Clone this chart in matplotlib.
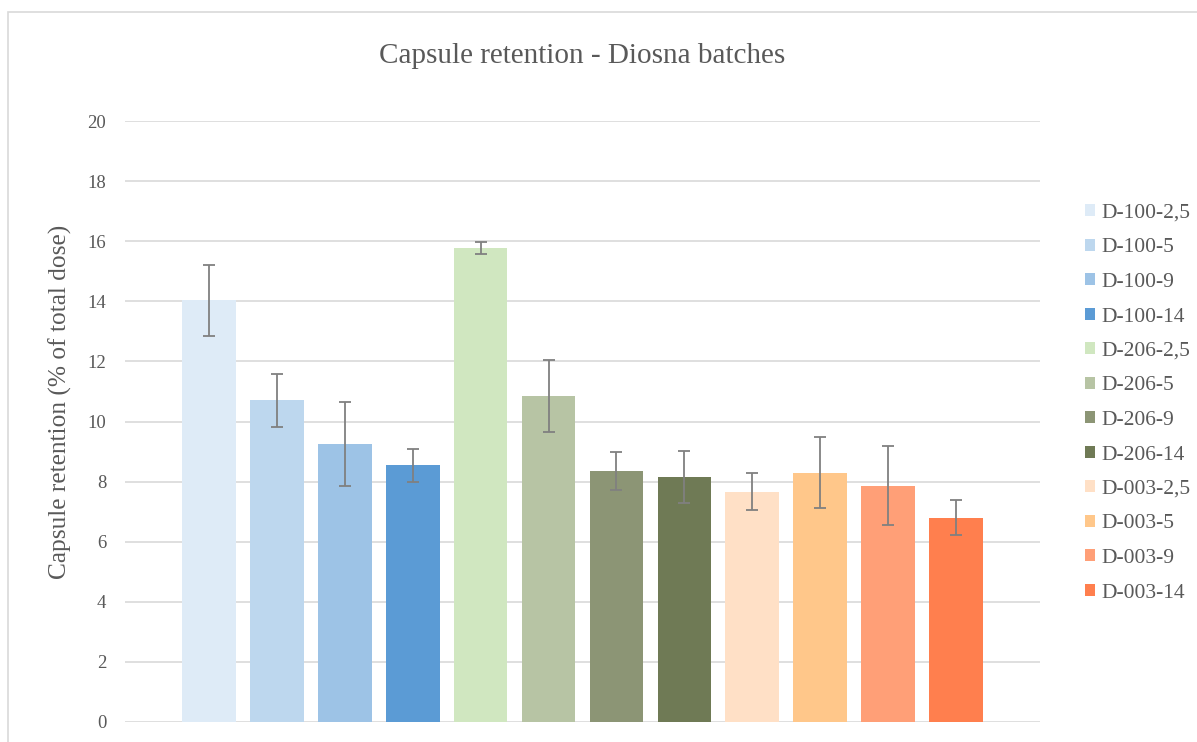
import matplotlib.pyplot as plt
from matplotlib.patches import Rectangle

# Batch names, mean retention and standard deviation
batches = ['D-100-2,5', 'D-100-5', 'D-100-9', 'D-100-14',
           'D-206-2,5', 'D-206-5', 'D-206-9', 'D-206-14',
           'D-003-2,5', 'D-003-5', 'D-003-9', 'D-003-14']
retention = [14.03, 10.70, 9.25, 8.55, 15.77, 10.85, 8.35, 8.15, 7.67, 8.30, 7.87, 6.80]
std_dev = [1.18, 0.88, 1.40, 0.55, 0.19, 1.20, 0.64, 0.86, 0.61, 1.17, 1.30, 0.59]
colors = ['#DEEBF7', '#BDD7EE', '#9DC3E6', '#5B9BD5',
          '#D0E7C0', '#B7C4A4', '#8C9575', '#6F7A55',
          '#FFE0C6', '#FFC78A', '#FF9F77', '#FF7F4E']

plt.rcParams['font.family'] = ['Liberation Serif', 'DejaVu Serif']

fig = plt.figure(figsize=(11.97, 7.42), dpi=100)
# Outer chart border
fig.patches.append(Rectangle((8 / 1197, -0.02), 1.05, 1 - 12 / 742 + 0.02,
                             transform=fig.transFigure, fill=False,
                             edgecolor='#d9d9d9', linewidth=1.2))

ax = fig.add_axes([125 / 1197, 20 / 742, 915 / 1197, 601 / 742])

x = list(range(len(batches)))
bars = ax.bar(x, retention, width=0.79, color=colors, label=batches, zorder=2)
ax.errorbar(x, retention, yerr=std_dev, fmt='none', ecolor='#808080',
            elinewidth=1.3, capsize=4, capthick=1.3, zorder=3)

ax.set_ylim(0, 20)
ax.set_xlim(-1.24, 12.24)
ax.set_yticks(range(0, 21, 2))
ax.set_xticks([])
ax.tick_params(axis='y', length=0, labelsize=13.5, labelcolor='#595959', pad=13.5)
ax.grid(axis='y', color='#d9d9d9', linewidth=1.2, zorder=0)
for s in ax.spines.values():
    s.set_visible(False)

ax.set_ylabel('Capsule retention (% of total dose)', fontsize=18.3, color='#595959')
ax.yaxis.set_label_coords(-0.058, 0.532)
fig.text(0.486, 0.925, 'Capsule retention - Diosna batches', ha='center', va='center',
         fontsize=21, color='#595959')

# Legend on the right
fig.legend(bars, batches, loc='upper left', bbox_to_anchor=(1085 / 1197, 1 - 204 / 742),
           frameon=False, fontsize=15.5, handlelength=0.46, handleheight=0.46,
           handletextpad=0.3, labelspacing=0.72, labelcolor='#595959',
           borderaxespad=0, borderpad=0)

plt.savefig('out.png', dpi=100)
